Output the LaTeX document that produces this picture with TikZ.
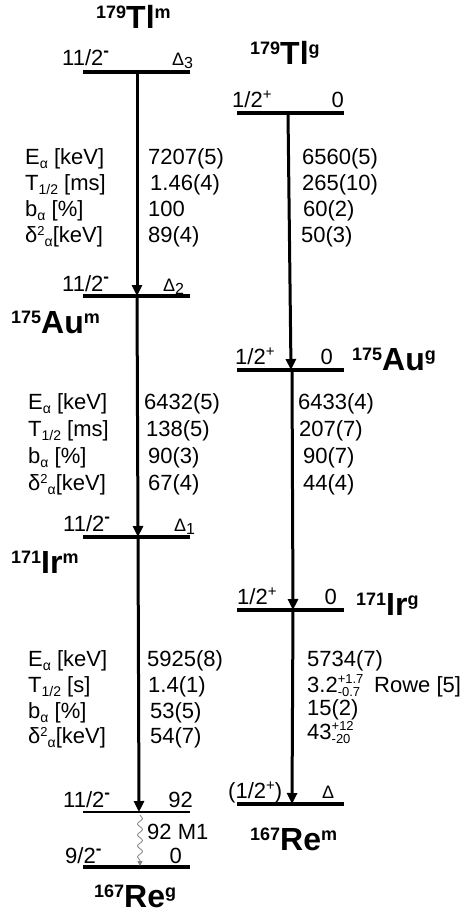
\documentclass[tikz,border=0pt]{standalone}
\usepackage{fontspec}
\setmainfont{Liberation Sans}
\usetikzlibrary{arrows.meta,decorations.pathmorphing}

% small raised / lowered pieces of text
\newcommand\dn[1]{\raisebox{-4pt}{\fontsize{14}{14}\selectfont #1}}
\newcommand\up[1]{\raisebox{7pt}{\fontsize{13}{13}\selectfont #1}}
\newcommand\spinm[1]{#1\raisebox{9pt}{\fontsize{17}{17}\selectfont\bfseries -}}
\newcommand\spinp[1]{#1\raisebox{8pt}{\fontsize{15}{15}\selectfont +}}
\newcommand\dlt[1]{{\fontsize{18}{18}\selectfont Δ\raisebox{-3pt}{\fontsize{16}{16}\selectfont #1}}}
\newcommand\errs[2]{\rlap{\raisebox{9pt}{\fontsize{13}{13}\selectfont #1}}\raisebox{-4pt}{\fontsize{13}{13}\selectfont #2}}
\newcommand\nucl[3]{\raisebox{10pt}{\fontsize{18}{18}\selectfont #1}{\fontsize{32}{32}\selectfont #2}\raisebox{10pt}{\fontsize{18}{18}\selectfont #3}}

\begin{document}
\begin{tikzpicture}[x=1pt,y=-1pt,
  txt/.style={inner sep=0pt,anchor=base west,font=\fontsize{22}{26}\selectfont},
  txte/.style={txt,anchor=base east},
  nuc/.style={inner sep=0pt,anchor=base west,font=\bfseries},
  lev/.style={line width=3.2pt},
  levthin/.style={line width=1.4pt},
  decay/.style={line width=3pt,-{Triangle[length=11pt,width=10pt]}},
  gam/.style={gray,line width=0.8pt,decorate,
    decoration={snake,amplitude=2.5pt,segment length=11pt,post length=5pt},
    -{Triangle[length=5pt,width=5pt]}}]

\path[use as bounding box] (0,0) rectangle (466,912);

% ---------- level end points ----------
\coordinate (tlmL) at (83,72);   \coordinate (tlmR) at (190,72);
\coordinate (tlgL) at (237,113); \coordinate (tlgR) at (344,113);
\coordinate (aumL) at (83,296);  \coordinate (aumR) at (190,296);
\coordinate (augL) at (237,370); \coordinate (augR) at (344,370);
\coordinate (irmL) at (83,537);  \coordinate (irmR) at (190,537);
\coordinate (irgL) at (237,610); \coordinate (irgR) at (344,610);
\coordinate (remL) at (237,804); \coordinate (remR) at (344,804);
\coordinate (rexL) at (83,812);  \coordinate (rexR) at (190,812);
\coordinate (regL) at (83,867);  \coordinate (regR) at (190,867);

% ---------- decay end points ----------
\coordinate (tlm) at (137,72);   \coordinate (aumIn) at (137,296);
\coordinate (aum) at (137,296);  \coordinate (irmIn) at (138,537);
\coordinate (irm) at (138,537);  \coordinate (rexIn) at (139,812);
\coordinate (tlg) at (288,113);  \coordinate (augIn) at (291,370);
\coordinate (aug) at (292,370);  \coordinate (irgIn) at (293,610);
\coordinate (irg) at (293,610);  \coordinate (remIn) at (292,804);
\coordinate (rex) at (140,815);  \coordinate (regIn) at (140,866);

% ---------- levels ----------
\draw[lev] (tlmL) -- (tlmR);
\draw[lev] (tlgL) -- (tlgR);
\draw[lev] (aumL) -- (aumR);
\draw[lev] (augL) -- (augR);
\draw[lev] (irmL) -- (irmR);
\draw[lev] (irgL) -- (irgR);
\draw[lev] (remL) -- (remR);
\draw[levthin] (rexL) -- (rexR);
\draw[lev] (regL) -- (regR);

% ---------- transitions ----------
\draw[decay] (tlm) -- (aumIn);
\draw[decay] (aum) -- (irmIn);
\draw[decay] (irm) -- (rexIn);
\draw[decay] (tlg) -- (augIn);
\draw[decay] (aug) -- (irgIn);
\draw[decay] (irg) -- (remIn);
\draw[gam] (rex) -- (regIn);

% ---------- nuclide names ----------
\node[nuc] (nTlm) at (96,29)  {\nucl{179}{Tl}{m}};
\node[nuc] (nTlg) at (250,65) {\nucl{179}{Tl}{g}};
\node[nuc] (nAum) at (11,333) {\nucl{175}{Au}{m}};
\node[nuc] (nAug) at (352,370) {\nucl{175}{Au}{g}};
\node[nuc] (nIrm) at (11,573) {\nucl{171}{Ir}{m}};
\node[nuc] (nIrg) at (356,615) {\nucl{171}{Ir}{g}};
\node[nuc] (nRem) at (250,850) {\nucl{167}{Re}{m}};
\node[nuc] (nReg) at (94,907) {\nucl{167}{Re}{g}};

% ---------- level labels ----------
\node[txt] (sTlm) at (62,66) {\spinm{11/2}};
\node[txt] (eTlm) at (172,66) {\dlt{3}};
\node[txt] (sTlg) at (232,108) {\spinp{1/2}};
\node[txte] (eTlg) at (344,108) {0};
\node[txt] (sAum) at (62,291) {\spinm{11/2}};
\node[txt] (eAum) at (163,291) {\dlt{2}};
\node[txt] (sAug) at (235,364) {\spinp{1/2}};
\node[txte] (eAug) at (333,364) {0};
\node[txt] (sIrm) at (63,531) {\spinm{11/2}};
\node[txt] (eIrm) at (174,531) {\dlt{1}};
\node[txt] (sIrg) at (237,604) {\spinp{1/2}};
\node[txte] (eIrg) at (337,604) {0};
\node[txt] (sRem) at (228,798) {(\spinp{1/2})};
\node[txt] (eRem) at (322,798) {\dlt{}};
\node[txt] (sRex) at (63,807) {\spinm{11/2}};
\node[txte] (eRex) at (193,807) {92};
\node[txt] (sReg) at (65,863) {\spinm{9/2}};
\node[txte] (eReg) at (182,863) {0};
\node[txt] (gRex) at (147,839) {92 M1};

% ---------- decay data: Tl -> Au ----------
\node[txt] (a1) at (25,165) {E\dn{α} [keV]};
\node[txt] (a2) at (25,190) {T\dn{1/2} [ms]};
\node[txt] (a3) at (25,216) {b\dn{α} [\%]};
\node[txt] (a4) at (25,242) {δ\up{2}\dn{α}[keV]};
\node[txt] (am1) at (148,165) {7207(5)};
\node[txt] (am2) at (150,190) {1.46(4)};
\node[txt] (am3) at (148,216) {100};
\node[txt] (am4) at (148,242) {89(4)};
\node[txt] (ag1) at (302,165) {6560(5)};
\node[txt] (ag2) at (302,190) {265(10)};
\node[txt] (ag3) at (303,216) {60(2)};
\node[txt] (ag4) at (301,242) {50(3)};

% ---------- decay data: Au -> Ir ----------
\node[txt] (b1) at (28,409) {E\dn{α} [keV]};
\node[txt] (b2) at (28,436) {T\dn{1/2} [ms]};
\node[txt] (b3) at (28,463) {b\dn{α} [\%]};
\node[txt] (b4) at (28,490) {δ\up{2}\dn{α}[keV]};
\node[txt] (bm1) at (144,409) {6432(5)};
\node[txt] (bm2) at (146,436) {138(5)};
\node[txt] (bm3) at (148,463) {90(3)};
\node[txt] (bm4) at (148,490) {67(4)};
\node[txt] (bg1) at (298,409) {6433(4)};
\node[txt] (bg2) at (299,436) {207(7)};
\node[txt] (bg3) at (303,463) {90(7)};
\node[txt] (bg4) at (303,490) {44(4)};

% ---------- decay data: Ir -> Re ----------
\node[txt] (c1) at (28,666) {E\dn{α} [keV]};
\node[txt] (c2) at (28,692) {T\dn{1/2} [s]};
\node[txt] (c3) at (28,718) {b\dn{α} [\%]};
\node[txt] (c4) at (28,743) {δ\up{2}\dn{α}[keV]};
\node[txt] (cm1) at (147,666) {5925(8)};
\node[txt] (cm2) at (148,692) {1.4(1)};
\node[txt] (cm3) at (150,718) {53(5)};
\node[txt] (cm4) at (150,743) {54(7)};
\node[txt] (cg1) at (307,666) {5734(7)};
\node[txt] (cg2) at (307,692) {3.2\errs{+1.7}{-0.7}\hspace{14pt}Rowe [5]};
\node[txt] (cg3) at (307,715) {15(2)};
\node[txt] (cg4) at (307,739) {43\errs{+12}{-20}};

\end{tikzpicture}
\end{document}
